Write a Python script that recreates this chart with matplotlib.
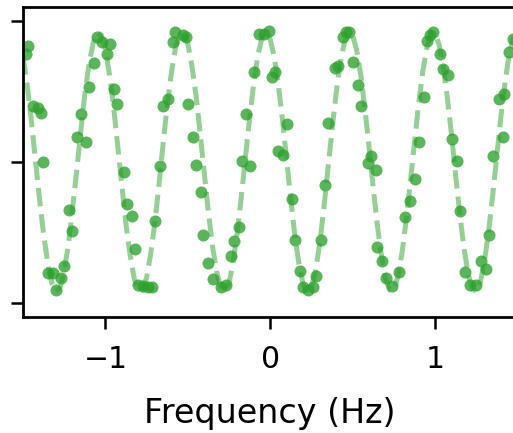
import numpy as np
import matplotlib
matplotlib.use("Agg")
import matplotlib.pyplot as plt

# measured points (frequency in Hz, normalised signal)
freq = [-1.48, -1.47, -1.44, -1.41, -1.39, -1.38, -1.35, -1.32, -1.30, -1.27,
        -1.25, -1.22, -1.20, -1.17, -1.15, -1.12, -1.10, -1.07, -1.05, -1.02,
        -0.99, -0.97, -0.95, -0.93, -0.89, -0.87, -0.84, -0.82, -0.80, -0.77,
        -0.74, -0.72,
        -0.70, -0.67, -0.65, -0.62, -0.59, -0.58, -0.53, -0.51, -0.50, -0.47,
        -0.45, -0.42, -0.41, -0.38, -0.35, -0.30, -0.27, -0.24, -0.22, -0.19,
        -0.17, -0.15, -0.12, -0.10, -0.07, -0.04, -0.01, 0.01, 0.03,
        0.05, 0.08, 0.10, 0.13, 0.15, 0.18, 0.20, 0.23, 0.26, 0.28,
        0.31, 0.33, 0.35, 0.39, 0.41, 0.44, 0.46, 0.48, 0.50, 0.53,
        0.55, 0.59, 0.61, 0.64, 0.65, 0.68, 0.70, 0.74, 0.78, 0.82,
        0.85, 0.88,
        0.90, 0.93, 0.95, 0.97, 0.99, 1.03, 1.05, 1.08, 1.10, 1.13,
        1.15, 1.18, 1.21, 1.25, 1.28, 1.31, 1.33, 1.35, 1.39, 1.41,
        1.42, 1.45, 1.47]
signal = [0.77, 0.82, 0.40, 0.38, 0.35, 0.00, -0.79, -0.79, -0.91, -0.82,
          -0.74, -0.34, -0.49, 0.18, 0.34, 0.14, 0.53, 0.70, 0.89, 0.85,
          0.77, 0.84, 0.52, 0.41, -0.07, -0.30, -0.38, -0.62, -0.87, -0.88,
          -0.89, -0.89,
          -0.42, -0.03, 0.40, 0.45, 0.85, 0.92, 0.90, 0.89, 0.41, 0.18,
          -0.02, -0.21, -0.52, -0.72, -0.83, -0.89, -0.87, -0.67, -0.56, -0.46,
          0.01, 0.34, -0.03, 0.64, 0.91, 0.91, 0.93, 0.60, 0.64,
          0.08, 0.05, 0.27, -0.26, -0.55, -0.77, -0.89, -0.91, -0.89, -0.81,
          -0.55, -0.16, 0.28, 0.67, 0.68, 0.89, 0.92, 0.92, 0.71, 0.55,
          0.40, -0.01, 0.04, -0.06, -0.60, -0.70, -0.82, -0.88, -0.78, -0.39,
          -0.28, -0.12,
          0.14, 0.46, 0.86, 0.90, 0.92, 0.77, 0.66, 0.62, 0.16, 0.01,
          -0.35, -0.78, -0.87, -0.87, -0.70, -0.76, -0.52, 0.04, 0.45, 0.18,
          0.48, 0.78, 0.87]

fit_freq = np.linspace(-1.5, 1.5, 121)
fit_signal = [0.75, 0.55, 0.30, 0.02, -0.26, -0.51, -0.72, -0.86, -0.92, -0.89,
              -0.77, -0.59, -0.34, -0.07, 0.21, 0.48, 0.69, 0.84, 0.92, 0.90,
              0.80, 0.62, 0.39, 0.11, -0.17, -0.44, -0.66, -0.83, -0.91, -0.91,
              -0.82, -0.65, -0.43, -0.16, 0.13, 0.40, 0.63, 0.81, 0.90, 0.91,
              0.84, 0.68, 0.47, 0.20, -0.08, -0.36, -0.60, -0.78, -0.89, -0.92,
              -0.86, -0.71, -0.50, -0.24, 0.04, 0.31, 0.56, 0.76, 0.88, 0.92,
              0.87, 0.74, 0.54, 0.29, 0.01, -0.27, -0.53, -0.73, -0.87, -0.92,
              -0.89, -0.77, -0.58, -0.33, -0.05, 0.23, 0.49, 0.70, 0.85, 0.92,
              0.90, 0.79, 0.61, 0.37, 0.10, -0.19, -0.45, -0.67, -0.83, -0.91,
              -0.91, -0.81, -0.64, -0.41, -0.14, 0.14, 0.41, 0.64, 0.81, 0.91,
              0.91, 0.83, 0.67, 0.45, 0.19, -0.10, -0.37, -0.61, -0.79, -0.90,
              -0.92, -0.85, -0.70, -0.49, -0.23, 0.05, 0.33, 0.57, 0.77, 0.88,
              0.92]

xticks = [-1, 0, 1]
yticks = [-1, 0, 1]

fig = plt.figure(figsize=(5.13, 4.33), dpi=100)
ax = fig.add_axes([0.0448, 0.2679, 0.964, 0.7159])

ax.plot(fit_freq, fit_signal, '--', color='#2ca02c', alpha=0.5, lw=3.6, zorder=1)
ax.scatter(freq, signal, s=75, color='#2ca02c', alpha=0.78, lw=0, zorder=2)

ax.set_xlim(-1.5, 1.5)
ax.set_ylim(-1.1, 1.1)
ax.set_xticks(xticks)
ax.set_xticklabels(['\u22121', '0', '1'])
ax.set_yticks(yticks)
ax.set_yticklabels([])
for s in ax.spines.values():
    s.set_linewidth(2.0)
ax.tick_params(direction='out', length=8.5, width=1.8, labelsize=21.5, pad=12)
ax.set_xlabel('Frequency (Hz)', fontsize=24, labelpad=16)

fig.savefig('out.png', dpi=100)
